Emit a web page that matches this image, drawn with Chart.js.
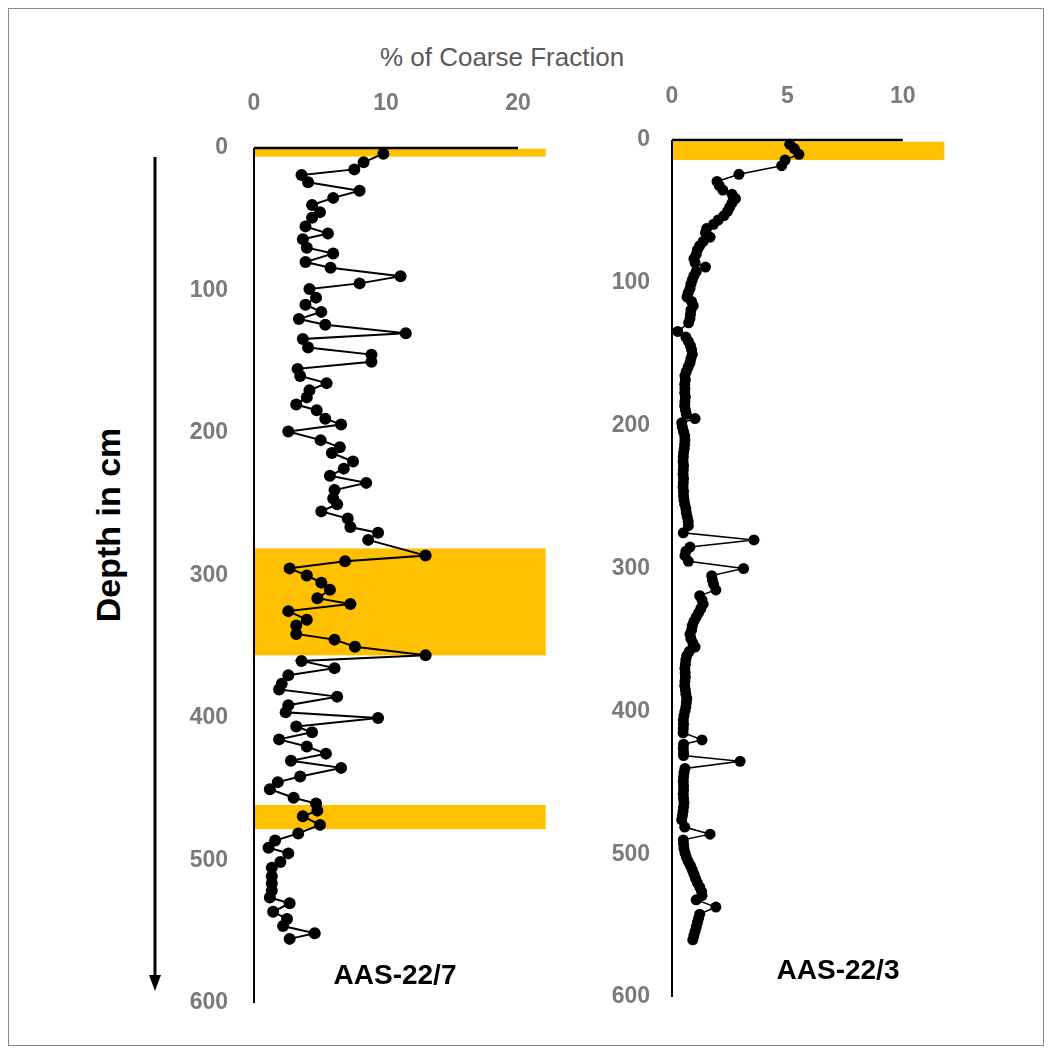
<!DOCTYPE html>
<html><head><meta charset="utf-8">
<script src="https://cdn.jsdelivr.net/npm/chart.js@4.4.1/dist/chart.umd.min.js"></script>
<style>
html,body{margin:0;padding:0;background:#fff;}
#page{position:relative;width:1053px;height:1057px;overflow:hidden;background:#fff;}
#frame{position:absolute;left:8px;top:8px;width:1036px;height:1038px;border:1px solid #8a8a8a;box-sizing:border-box;}
.box{position:absolute;}
#title{position:absolute;left:302px;width:400px;top:38px;height:38px;line-height:38px;text-align:center;font-family:"Liberation Sans",sans-serif;font-size:26px;color:#595959;white-space:nowrap;}
#depth{position:absolute;left:-42px;top:505px;width:300px;height:40px;line-height:40px;text-align:center;transform:rotate(-90deg);font-family:"Liberation Sans",sans-serif;font-weight:bold;font-size:34px;color:#000;white-space:nowrap;}
.core{position:absolute;width:200px;height:34px;line-height:34px;text-align:center;font-family:"Liberation Sans",sans-serif;font-weight:bold;font-size:28px;color:#000;white-space:nowrap;}
#arrow{position:absolute;left:0;top:0;}
</style>
</head>
<body>
<div id="page">
  <div id="frame"></div>
  <div id="title">% of Coarse Fraction</div>
  <div id="depth">Depth in cm</div>
  <svg id="arrow" width="200" height="1057">
    <line x1="155" y1="157" x2="155" y2="978" stroke="#000" stroke-width="3"/>
    <polygon points="149,975 161,975 155,991" fill="#000"/>
  </svg>
  <div class="box" style="left:150px;top:40px;width:430px;height:990px;"><canvas id="c1" width="430" height="990"></canvas></div>
  <div class="box" style="left:560px;top:40px;width:450px;height:990px;"><canvas id="c2" width="450" height="990"></canvas></div>
  <div class="core" style="left:295px;top:958px;">AAS-22/7</div>
  <div class="core" style="left:738px;top:953px;">AAS-22/3</div>
</div>
<script>
// ---------- Data ----------
const coreNames = ["AAS-22/7", "AAS-22/3"];
const xTicks227 = [0, 10, 20];
const xTicks223 = [0, 5, 10];
const depthTicks = [0, 100, 200, 300, 400, 500, 600];

// AAS-22/7 : depth (cm) and % coarse fraction
const depth227 = [4,10,15,19,24,30,35,40,45,49,55,60,64,70,74,80,84,90,95,99,105,110,115,120,124,130,134,140,145,150,155,160,165,170,175,180,184,190,194,199,205,210,214,220,225,230,235,240,246,250,255,260,266,270,275,286,290,295,300,305,310,316,320,325,331,335,341,345,350,356,360,365,370,376,380,385,391,396,400,406,410,415,420,425,430,435,441,445,450,456,460,465,469,475,481,486,491,495,501,505,511,516,521,526,530,536,541,546,551,555];
const coarse227 = [9.8,8.3,7.6,3.6,4.1,8.0,6.0,4.4,5.0,4.4,3.9,5.6,3.7,4.0,6.0,3.9,5.8,11.1,8.0,4.2,4.7,3.9,5.1,3.4,5.4,11.5,3.7,4.1,8.9,8.9,3.3,3.5,5.5,4.2,4.0,3.2,4.75,5.4,6.6,2.6,5.05,6.5,5.9,7.5,6.8,5.75,8.5,6.1,6.0,6.3,5.1,7.1,7.3,9.4,8.65,13.0,6.9,2.7,4.0,5.1,5.75,4.8,7.3,2.6,4.0,3.2,3.2,6.1,7.65,13.0,3.6,6.1,2.6,2.1,1.9,6.3,2.6,2.4,9.4,3.2,4.4,1.9,4.0,5.45,2.8,6.6,3.5,1.8,1.2,3.0,4.7,4.8,3.7,5.0,3.35,1.6,1.1,2.6,2.0,1.35,1.35,1.35,1.35,1.2,2.7,1.45,2.5,2.2,4.6,2.7];

// AAS-22/3 : depth (cm) and % coarse fraction
const depth223 = [3,6,10,14,18,24,29,32,35,38,41,44,47,50,53,56,59,62,65,68,71,74,77,80,83,86,89,92,95,98,101,104,107,110,113,116,119,122,125,128,134,138,141,144,147,150,153,156,159,162,165,168,171,174,177,180,183,186,189,192,195,198,201,204,207,210,213,216,219,222,225,228,231,234,237,240,243,246,249,252,255,258,261,264,267,270,275,280,285,288,291,295,300,305,308,311,315,319,322,325,328,331,334,337,340,343,346,349,352,355,358,361,364,367,370,373,376,379,382,385,388,391,394,397,400,403,406,409,412,415,420,423,426,429,431,435,440,443,446,449,452,455,458,461,464,467,470,473,476,481,486,490,493,496,499,502,505,508,511,514,517,520,523,526,529,532,537,542,545,548,551,554,557,560];
const coarse223 = [5.1,5.3,5.5,4.9,4.75,2.9,1.95,2.05,2.2,2.6,2.75,2.6,2.5,2.4,2.25,2.0,1.8,1.5,1.45,1.65,1.35,1.2,1.1,1.05,0.95,1.0,1.45,1.05,0.95,0.88,0.82,0.78,0.7,0.65,0.85,0.92,0.82,0.8,0.78,0.72,0.25,0.6,0.71,0.8,0.85,0.88,0.82,0.78,0.7,0.62,0.56,0.58,0.55,0.56,0.55,0.58,0.56,0.55,0.58,0.62,1.0,0.42,0.45,0.5,0.55,0.56,0.55,0.53,0.5,0.49,0.48,0.5,0.49,0.48,0.5,0.49,0.48,0.5,0.5,0.52,0.55,0.6,0.62,0.66,0.7,0.71,0.49,3.55,0.78,0.6,0.56,0.71,3.1,1.72,1.75,1.8,1.9,1.2,1.3,1.35,1.25,1.15,1.05,0.95,0.88,0.85,0.78,0.82,0.9,1.0,0.75,0.64,0.6,0.58,0.56,0.57,0.58,0.56,0.55,0.58,0.6,0.64,0.62,0.6,0.56,0.52,0.49,0.5,0.49,0.48,1.3,0.5,0.49,0.5,0.5,2.95,0.56,0.52,0.5,0.49,0.5,0.5,0.49,0.5,0.52,0.5,0.48,0.45,0.42,0.55,1.65,0.49,0.5,0.52,0.56,0.62,0.7,0.8,0.88,0.95,1.02,1.1,1.2,1.28,1.3,1.05,1.9,1.2,1.15,1.1,1.05,1.0,0.95,0.9];

// Highlighted depth intervals (cm) and their extent on the x axis
const bands227 = [[0.5, 6], [281, 356], [461, 478]];
const bands223 = [[1.2, 14]];
const bandEnd227 = 22.1;
const bandEnd223 = 11.8;

// ---------- Drawing ----------
const panelPlugin = {
  id: 'panel',
  beforeDatasetsDraw(chart, args, opts) {
    const {ctx, scales: {x, y}} = chart;
    ctx.save();
    ctx.fillStyle = '#FFC000';
    opts.bands.forEach(([d1, d2]) => {
      const x1 = x.getPixelForValue(0), x2 = x.getPixelForValue(opts.bandEnd);
      const y1 = y.getPixelForValue(d1), y2 = y.getPixelForValue(d2);
      ctx.fillRect(x1, y1, x2 - x1, y2 - y1);
    });
    ctx.strokeStyle = '#000';
    const x0 = x.getPixelForValue(0), y0 = y.getPixelForValue(0);
    ctx.lineWidth = 2.5;
    ctx.beginPath();
    ctx.moveTo(x0, y0);
    ctx.lineTo(x.getPixelForValue(opts.axisEnd), y0);
    ctx.stroke();
    ctx.lineWidth = 2;
    ctx.beginPath();
    ctx.moveTo(x0, y0);
    ctx.lineTo(x0, y.getPixelForValue(600));
    ctx.stroke();
    ctx.restore();
  }
};

const tickFont = {family: '"Liberation Sans", sans-serif', size: 23, weight: 'bold'};
const tickColor = '#7a7a7a';

function buildChart(id, depths, values, xTicks, cfg) {
  const data = depths.map((d, i) => ({x: values[i], y: d}));
  return new Chart(document.getElementById(id), {
    type: 'scatter',
    data: {datasets: [{
      data,
      showLine: true,
      borderColor: '#000',
      borderWidth: cfg.lineWidth,
      pointRadius: cfg.radius,
      pointHoverRadius: cfg.radius,
      pointBackgroundColor: '#000',
      pointBorderColor: '#000',
      pointBorderWidth: 0,
      clip: false
    }]},
    options: {
      responsive: false,
      animation: false,
      events: [],
      layout: {padding: {left: 0, top: 0, right: cfg.padRight, bottom: cfg.padBottom}},
      plugins: {
        legend: {display: false},
        tooltip: {enabled: false},
        panel: {bands: cfg.bands, bandEnd: cfg.bandEnd, axisEnd: xTicks[xTicks.length - 1]}
      },
      scales: {
        x: {
          type: 'linear', position: 'top', min: 0, max: cfg.xMax,
          grid: {display: false, drawTicks: false},
          border: {display: false},
          afterBuildTicks: s => { s.ticks = xTicks.map(v => ({value: v})); },
          afterFit: s => { s.height = cfg.xHeight; s.paddingLeft = 0; s.paddingRight = 0; },
          ticks: {font: tickFont, color: tickColor, padding: cfg.xPad, maxRotation: 0}
        },
        y: {
          type: 'linear', reverse: true, min: 0, max: 600,
          grid: {display: false, drawTicks: false},
          border: {display: false},
          afterBuildTicks: s => { s.ticks = depthTicks.map(v => ({value: v})); },
          afterFit: s => { s.width = cfg.yWidth; s.paddingTop = 0; s.paddingBottom = 0; },
          ticks: {font: tickFont, color: tickColor, padding: cfg.yPad}
        }
      }
    },
    plugins: [panelPlugin]
  });
}

buildChart('c1', depth227, coarse227, xTicks227, {
  xMax: 22.5, xHeight: 108, yWidth: 104, padRight: 29, padBottom: 27,
  xPad: 31, yPad: 26, bands: bands227, bandEnd: bandEnd227, lineWidth: 2, radius: 6
});
buildChart('c2', depth223, coarse223, xTicks223, {
  xMax: 12, xHeight: 100, yWidth: 112, padRight: 61, padBottom: 33,
  xPad: 30, yPad: 22, bands: bands223, bandEnd: bandEnd223, lineWidth: 1.5, radius: 5.5
});
</script>
</body></html>
